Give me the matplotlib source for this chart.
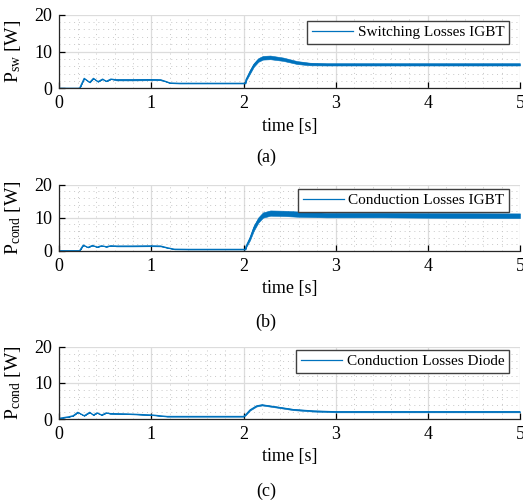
import matplotlib
matplotlib.use("Agg")
import matplotlib.pyplot as plt
import numpy as np

plt.rcParams['font.family'] = ['Liberation Serif', 'DejaVu Serif']
plt.rcParams['mathtext.fontset'] = 'custom'
plt.rcParams['mathtext.rm'] = 'Liberation Serif'

# ---- data ----
t_sw = [0, 0.22, 0.27, 0.33, 0.37, 0.42, 0.47, 0.51, 0.56, 0.62, 0.8, 1.0, 1.1, 1.15, 1.2, 1.3,
        2.02, 2.025, 2.07, 2.11, 2.16, 2.21, 2.29, 2.43, 2.58, 2.72, 2.9, 3.5, 4.0, 5.0]
sw_lo = [0, 0, 2.7, 1.6, 2.7, 1.8, 2.5, 1.9, 2.5, 2.15, 2.15, 2.2, 2.2, 1.85, 1.4, 1.3,
         1.3, 1.95, 4.0, 5.8, 7.2, 7.8, 7.9, 7.45, 6.6, 6.25, 6.2, 6.2, 6.2, 6.2]
sw_hi = [0, 0, 2.7, 1.6, 2.7, 1.8, 2.5, 1.9, 2.5, 2.45, 2.45, 2.5, 2.4, 1.95, 1.5, 1.4,
         1.4, 2.55, 5.0, 6.8, 8.2, 8.8, 8.9, 8.35, 7.4, 6.95, 6.8, 6.8, 6.8, 6.8]

t_ci = [0, 0.22, 0.26, 0.31, 0.36, 0.41, 0.46, 0.51, 0.56, 0.62, 0.8, 1.0, 1.1, 1.17, 1.25, 1.4,
        2.02, 2.025, 2.07, 2.11, 2.16, 2.21, 2.29, 2.45, 2.58, 2.9, 3.5, 4.0, 5.0]
ci_lo = [0, 0, 1.7, 1.0, 1.6, 1.1, 1.5, 1.2, 1.5, 1.3, 1.3, 1.35, 1.3, 0.85, 0.4, 0.35,
         0.35, 0.9, 3.2, 6.0, 8.5, 10.0, 10.6, 10.5, 10.3, 10.1, 10.1, 10.0, 9.9]
ci_hi = [0, 0, 1.7, 1.0, 1.6, 1.1, 1.5, 1.2, 1.5, 1.5, 1.5, 1.55, 1.5, 0.95, 0.5, 0.45,
         0.45, 1.5, 4.4, 7.6, 10.1, 11.6, 12.2, 12.1, 11.9, 11.5, 11.5, 11.4, 11.3]

t_cd = [0, 0.1, 0.15, 0.2, 0.27, 0.33, 0.37, 0.41, 0.46, 0.51, 0.55, 0.73, 1.01, 1.17, 2.0,
        2.02, 2.07, 2.14, 2.2, 2.36, 2.54, 2.76, 3.0, 5.0]
cd_lo = [0.2, 0.6, 0.9, 1.85, 0.9, 1.85, 1.1, 1.7, 1.1, 1.7, 1.45, 1.35, 1.05, 0.65, 0.65,
         1.0, 2.35, 3.45, 3.75, 3.15, 2.45, 2.05, 1.85, 1.85]
cd_hi = [0.2, 0.6, 0.9, 1.85, 0.9, 1.85, 1.1, 1.7, 1.1, 1.7, 1.55, 1.45, 1.15, 0.75, 0.75,
         1.2, 2.65, 3.75, 4.05, 3.45, 2.75, 2.35, 2.15, 2.15]

labels = ['Switching Losses IGBT', 'Conduction Losses IGBT', 'Conduction Losses Diode']
ylabels = [r'$\mathregular{P_{sw}}$ [W]', r'$\mathregular{P_{cond}}$ [W]', r'$\mathregular{P_{cond}}$ [W]']
captions = ['(a)', '(b)', '(c)']
xticks = [0, 1, 2, 3, 4, 5]
yticks = [0, 10, 20]

series = [(t_sw, sw_lo, sw_hi), (t_ci, ci_lo, ci_hi), (t_cd, cd_lo, cd_hi)]

# ---- layout ----
W, H = 523, 501
fig = plt.figure(figsize=(W / 100, H / 100), dpi=100)
boxes = [(14.7, 88.3), (184.7, 250.7), (346.7, 419.0)]
leg_tops = [0.918, 0.935, 0.954]
cap_y = [157, 322, 491]
xl, xr = 59.3, 520.0
color = '#0072BD'

for i, ((t, lo, hi), (ytop, ybot)) in enumerate(zip(series, boxes)):
    ax = fig.add_axes([xl / W, 1 - ybot / H, (xr - xl) / W, (ybot - ytop) / H])
    ax.fill_between(t, lo, hi, color=color, lw=0.4, edgecolor=color)
    mid = [(a + b) / 2 for a, b in zip(lo, hi)]
    ax.plot(t, mid, color=color, lw=0.9, label=labels[i])
    ax.set_xlim(0, 5)
    ax.set_ylim(0, 20)
    ax.set_xticks(xticks)
    ax.set_yticks(yticks)
    ax.set_xticks(np.arange(0, 5.01, 0.2), minor=True)
    ax.set_yticks(np.arange(0, 20.01, 2), minor=True)
    ax.grid(True, which='major', color='#dcdcdc', lw=0.9, ls='-')
    ax.grid(True, which='minor', color='#c8c8c8', lw=0.7, ls=(0, (1, 4)))
    ax.set_axisbelow(True)
    ax.tick_params(which='major', direction='in', length=4, width=0.9, labelsize=13, pad=5)
    ax.tick_params(which='minor', length=0)
    for s in ['top', 'right']:
        ax.spines[s].set_visible(False)
    for s in ['left', 'bottom']:
        ax.spines[s].set_linewidth(0.9)
        ax.spines[s].set_color('#262626')
    ax.set_ylabel(ylabels[i], fontsize=14)
    ax.yaxis.set_label_coords(-0.079, 0.5)
    ax.set_xlabel('time [s]', fontsize=13, labelpad=4)
    leg = ax.legend(loc='upper right', bbox_to_anchor=(0.976, leg_tops[i]), borderaxespad=0,
                    fontsize=11, handlelength=2.7, handletextpad=0.3, borderpad=0.3,
                    fancybox=False, framealpha=1, edgecolor='#404040')
    leg.get_frame().set_linewidth(1.0)
    fig.text(266 / W, 1 - cap_y[i] / H, captions[i], ha='center', va='center', fontsize=13)

fig.savefig('out.png', dpi=100)
